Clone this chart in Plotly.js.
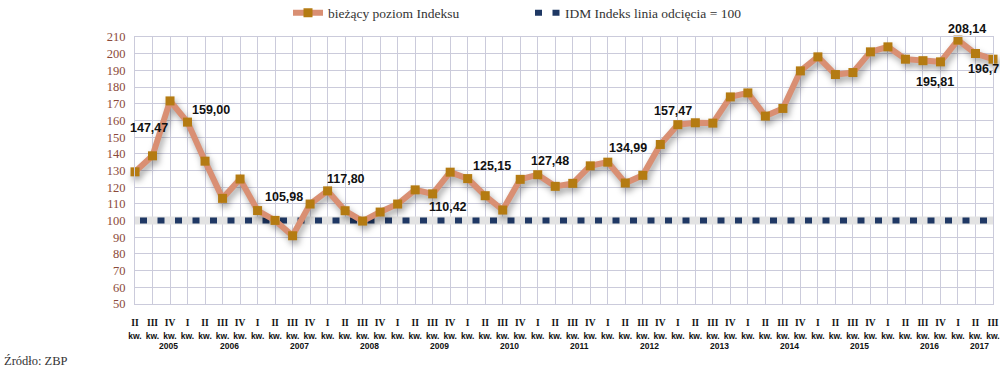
<!DOCTYPE html>
<html><head><meta charset="utf-8">
<script src="https://cdn.plot.ly/plotly-3.0.1.min.js"></script>
<style>html,body{margin:0;padding:0;background:#fff}#chart{width:1000px;height:370px}</style>
</head><body><div id="chart"></div>
<script>
// ---- data ----
const quarters = [
  'II','III','IV',
  'I','II','III','IV',
  'I','II','III','IV',
  'I','II','III','IV',
  'I','II','III','IV',
  'I','II','III','IV',
  'I','II','III','IV',
  'I','II','III','IV',
  'I','II','III','IV',
  'I','II','III','IV',
  'I','II','III','IV',
  'I','II','III','IV',
  'I','II','III'
];
const years = ['2005','2006','2007','2008','2009','2010','2011','2012','2013','2014','2015','2016','2017'];
const indexValues = [
  129.2, 138.8, 171.7,
  159.0, 135.6, 113.3, 124.9,
  105.98, 100.1, 90.9, 109.9,
  117.8, 105.9, 99.7, 105.1,
  109.9, 118.4, 116.0, 129.0,
  125.15, 114.9, 106.3, 124.7,
  127.48, 120.5, 122.3, 132.8,
  134.99, 122.5, 127.1, 145.6,
  157.47, 158.6, 158.4, 174.1,
  176.5, 162.6, 167.2, 189.7,
  198.1, 187.5, 188.7, 201.1,
  204.1, 196.7, 195.81, 195.1,
  208.14, 200.1, 196.7
];
const cutoffLevel = 100;
const valueLabels = ['147,47','159,00','105,98','117,80','110,42','125,15','127,48','134,99','157,47','195,81','208,14','196,7'];
const valueLabelPoints = [1, 3, 7, 11, 17, 19, 23, 27, 31, 45, 47, 49];
const seriesNames = ['bieżący poziom Indeksu', 'IDM Indeks linia odcięcia = 100'];
const sourceText = 'Źródło: ZBP';
const quarterSuffix = 'kw.';

// ---- build ----
const idx = quarters.map((q, i) => i);
const cutoff = quarters.map(() => cutoffLevel);

const ticktext = quarters.map(q =>
  '<b>' + q + '</b><br><span style="font-family:Liberation Sans;font-size:8.5px"><b>' + quarterSuffix + '</b></span>');

// year of each quarter
const quarterYear = [];
let yi = 0;
quarters.forEach((q, i) => { if (q === 'I' && i > 0) yi++; quarterYear.push(yi); });

const annotations = [];
// label offsets (px) relative to the labelled point
const labelShifts = [[-4,28],[23,12],[26,14],[18,12],[15,-13],[24,13],[12,14],[20,14],[-5,14],[12,-21],[9,11],[-27,-10]];
valueLabels.forEach((t, k) => {
  const p = valueLabelPoints[k];
  const last = k === valueLabels.length - 1;
  annotations.push({
    x: p, y: indexValues[p], xref: 'x', yref: 'y', text: '<b>' + t + '</b>', showarrow: false,
    xanchor: last ? 'left' : 'center', yanchor: 'middle',
    xshift: labelShifts[k][0], yshift: labelShifts[k][1],
    font: {family: 'Liberation Sans', size: 12.5, color: '#111'}
  });
});
years.forEach((yr, j) => {
  const members = idx.filter(i => quarterYear[i] === j);
  const mean = members.reduce((a, b) => a + b, 0) / members.length;
  annotations.push({
    x: Math.min(mean + 0.9, idx.length - 1.75), y: -0.157, xref: 'x', yref: 'paper',
    text: '<b>' + yr + '</b>', showarrow: false,
    xanchor: 'center', yanchor: 'middle',
    font: {family: 'Liberation Sans', size: 8.5, color: '#111'}
  });
});
annotations.push({
  x: (2 - 135) / 858, y: (304 - 361) / 267, xref: 'paper', yref: 'paper', text: sourceText, showarrow: false,
  xanchor: 'left', yanchor: 'middle',
  font: {family: 'Liberation Serif, serif', size: 12.5, color: '#333'}
});

const traces = [
  {x: idx, y: cutoff, mode: 'lines', showlegend: false, hoverinfo: 'skip',
   line: {color: '#e3e3e3', width: 8}},
  {x: idx, y: cutoff, mode: 'lines', name: seriesNames[1], legend: 'legend2', hoverinfo: 'skip',
   line: {color: '#1f3864', width: 6, dash: '0px,5px,7px,5.5px'}},
  {x: idx, y: indexValues, mode: 'lines+markers', name: seriesNames[0], legend: 'legend',
   cliponaxis: false,
   line: {color: '#d98f73', width: 6},
   marker: {symbol: 'square', size: 9, color: '#b47b12'}}
];

const gridc = '#cbcbdb';
const layout = {
  width: 1000, height: 370,
  margin: {l: 135, r: 7, t: 37, b: 66},
  paper_bgcolor: '#fff', plot_bgcolor: '#fff',
  font: {family: 'Liberation Sans', color: '#111'},
  xaxis: {
    range: [0, 49], tickvals: idx, ticktext: ticktext, tickangle: 0,
    showgrid: true, gridcolor: gridc, gridwidth: 1, zeroline: false,
    showline: true, linecolor: gridc, linewidth: 1, mirror: true,
    ticks: '', ticklabelstandoff: 10,
    tickfont: {family: 'Liberation Serif, serif', size: 9.5, color: '#111'}
  },
  yaxis: {
    range: [50, 210], tick0: 50, dtick: 10,
    showgrid: true, gridcolor: gridc, gridwidth: 1, zeroline: false,
    showline: true, linecolor: gridc, linewidth: 1, mirror: true,
    ticks: '', ticklabelstandoff: 6,
    tickfont: {family: 'Liberation Serif, serif', size: 12.5, color: '#8b4a3a'}
  },
  legend: {
    orientation: 'h', xref: 'container', yref: 'container',
    x: 0.288, y: 1 - 13/370, xanchor: 'left', yanchor: 'middle',
    bgcolor: 'rgba(0,0,0,0)',
    font: {family: 'Liberation Serif, serif', size: 13.5, color: '#333'}
  },
  legend2: {
    orientation: 'h', xref: 'container', yref: 'container',
    x: 0.525, y: 1 - 13/370, xanchor: 'left', yanchor: 'middle',
    bgcolor: 'rgba(0,0,0,0)',
    font: {family: 'Liberation Serif, serif', size: 13.5, color: '#333'}
  },
  annotations: annotations
};

Plotly.newPlot('chart', traces, layout, {displayModeBar: false, staticPlot: true}).then(gd => {
  const tr = gd.querySelectorAll('.scatterlayer .trace');
  if (tr[2]) tr[2].style.filter = 'drop-shadow(2px 4px 3px rgba(0,0,0,0.35))';
});
</script>
</body></html>
